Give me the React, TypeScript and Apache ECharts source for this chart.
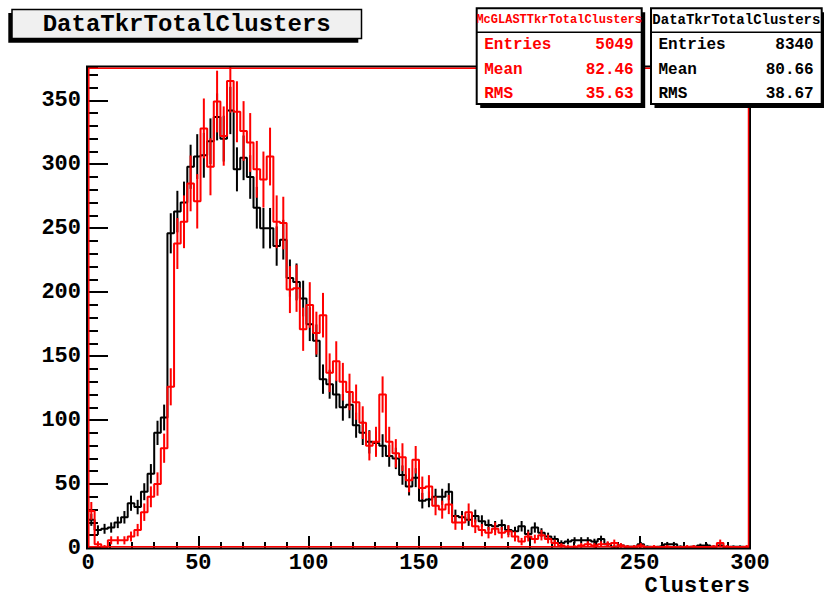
import { useEffect, useRef } from 'react';
import * as echarts from 'echarts';

// Histogram binning: 100 bins over [0, 300)
const X_MIN = 0;
const X_MAX = 300;
const BIN_WIDTH = 3;
const Y_MAX = 376;
const MAJOR_STEP = 50;
const MINOR_STEP = 10;

// Data (black): bin contents
const dataCounts = [
  22, 14, 15, 16, 20, 24, 35, 32, 44, 58,
  90, 102, 246, 263, 270, 298, 306, 307, 318, 337,
  320, 342, 296, 305, 290, 266, 250, 250, 236, 241,
  211, 208, 195, 175, 162, 132, 128, 120, 110, 112,
  96, 90, 83, 82, 80, 72, 70, 57, 48, 55,
  37, 38, 40, 40, 44, 25, 24, 22, 25, 21,
  18, 17, 18, 14, 13, 17, 11, 16, 12, 9,
  7, 4, 5, 6, 6, 6, 5, 7, 3, 1,
  2, 1, 1, 3, 1, 0, 1, 3, 3, 1,
  0, 1, 2, 2, 1, 2, 0, 1, 1, 0,
];

// MC (red): bin contents, normalised to the data integral
const mcCounts = [
  29, 3, 1, 6, 6, 6, 9, 14, 28, 40,
  50, 78, 126, 238, 255, 285, 271, 328, 298, 349,
  322, 365, 341, 326, 317, 296, 288, 306, 255, 254,
  202, 203, 171, 190, 168, 182, 137, 146, 130, 122,
  114, 98, 80, 83, 120, 83, 74, 71, 53, 69,
  47, 48, 33, 30, 34, 20, 20, 28, 17, 14,
  12, 15, 12, 13, 9, 5, 9, 7, 10, 7,
  4, 2, 1, 1, 2, 3, 2, 3, 3, 4,
  2, 1, 1, 2, 0, 1, 0, 1, 0, 0,
  1, 1, 0, 0, 1, 4, 1, 0, 0, 1,
];

const MC_ENTRIES = 5049;

const titleText = 'DataTkrTotalClusters';
const xAxisTitle = 'Clusters';
const statLabels = ['Entries', 'Mean', 'RMS'];
const mcStatsTitle = 'McGLASTTkrTotalClusters';
const mcStatValues = ['5049', '82.46', '35.63'];
const dataStatsTitle = 'DataTkrTotalClusters';
const dataStatValues = ['8340', '80.66', '38.67'];

const BLACK = '#000000';
const RED = '#ff0000';
const FONT = "'Courier New', 'Liberation Mono', monospace";

// Outline of a histogram: one point per left bin edge, stepped at the next edge
function stepPoints(counts: number[]): number[][] {
  const pts: number[][] = [[X_MIN, 0]];
  counts.forEach((c, k) => pts.push([X_MIN + k * BIN_WIDTH, c]));
  const end = X_MIN + counts.length * BIN_WIDTH;
  pts.push([end, counts[counts.length - 1]]);
  pts.push([end, 0]);
  return pts;
}

// Vertical error bars at bin centres: [centre, low, high]
function errorBars(counts: number[], weight: number): number[][] {
  const out: number[][] = [];
  counts.forEach((c, k) => {
    if (c <= 0) return;
    const e = Math.sqrt(c * weight);
    out.push([X_MIN + (k + 0.5) * BIN_WIDTH, c - e, c + e]);
  });
  return out;
}

function errorSeries(data: number[][], color: string, z: number) {
  return {
    type: 'custom',
    data,
    z,
    clip: true,
    encode: { x: 0, y: [1, 2] },
    renderItem: (_params: any, api: any) => {
      const x = api.value(0);
      const p1 = api.coord([x, api.value(1)]);
      const p2 = api.coord([x, api.value(2)]);
      return {
        type: 'line',
        shape: { x1: p1[0], y1: p1[1], x2: p2[0], y2: p2[1] },
        style: { stroke: color, lineWidth: 2 },
      };
    },
  };
}

function textEl(text: string, x: number, y: number, size: number, color: string, align: string, z: number) {
  return {
    type: 'text',
    x,
    y,
    z,
    silent: true,
    style: {
      text,
      fill: color,
      fontFamily: FONT,
      fontSize: size,
      fontWeight: 'bold',
      align,
      verticalAlign: 'middle',
      textAlign: align,
      textVerticalAlign: 'middle',
    },
  };
}

function statsBox(
  left: number,
  width: number,
  title: string,
  titleSize: number,
  values: string[],
  color: string,
  z: number,
) {
  const top = 8.3;
  const height = 95.7;
  const els: any[] = [
    { type: 'rect', z, silent: true, shape: { x: left + 3.5, y: top + 4, width, height }, style: { fill: BLACK } },
    {
      type: 'rect', z: z + 1, silent: true,
      shape: { x: left, y: top, width, height },
      style: { fill: '#ffffff', stroke: BLACK, lineWidth: 2 },
    },
    {
      type: 'line', z: z + 2, silent: true,
      shape: { x1: left, y1: top + 24, x2: left + width, y2: top + 24 },
      style: { stroke: BLACK, lineWidth: 1.5 },
    },
    textEl(title, left + width / 2, top + 11.6, titleSize, color, 'center', z + 3),
  ];
  statLabels.forEach((lab, i) => {
    const y = 45.2 + i * 24.5;
    els.push(textEl(lab, left + 7.5, y, 16, color, 'left', z + 3));
    els.push(textEl(values[i], left + width - 8, y, 16, color, 'right', z + 3));
  });
  return els;
}

export default function App() {
  const ref = useRef<HTMLDivElement>(null);

  useEffect(() => {
    document.body.style.margin = '0';
    if (!ref.current) return;
    const chart = echarts.init(ref.current, undefined, { renderer: 'svg' });

    const mcSum = mcCounts.reduce((a, b) => a + b, 0);
    const mcWeight = mcSum / MC_ENTRIES;

    const axisLabel = { color: BLACK, fontFamily: FONT, fontSize: 22, fontWeight: 'bold' };
    const tickLine = { color: BLACK, width: 2 };

    const graphic: any[] = [
      // frame
      {
        type: 'rect', z: 50, silent: true,
        shape: { x: 87, y: 66.5, width: 663, height: 482 },
        style: { fill: 'none', stroke: BLACK, lineWidth: 2 },
      },
      {
        type: 'rect', z: 51, silent: true,
        shape: { x: 88.8, y: 68.2, width: 659.7, height: 478.6 },
        style: { fill: 'none', stroke: RED, lineWidth: 1.5 },
      },
      // title pave
      { type: 'rect', z: 60, silent: true, shape: { x: 8.3, y: 13, width: 350, height: 29.7 }, style: { fill: BLACK } },
      {
        type: 'rect', z: 61, silent: true,
        shape: { x: 12, y: 9.5, width: 349.5, height: 29 },
        style: { fill: '#f0f0f0', stroke: BLACK, lineWidth: 1.5 },
      },
      textEl(titleText, 186.7, 24.5, 24, BLACK, 'center', 62),
      // axis title
      textEl(xAxisTitle, 750, 586.5, 22, BLACK, 'right', 62),
      // data stats box
      ...statsBox(651, 170.7, dataStatsTitle, 14, dataStatValues, BLACK, 70),
      // MC stats box
      ...statsBox(476.7, 165, mcStatsTitle, 12, mcStatValues, RED, 80),
    ];

    chart.setOption({
      animation: false,
      backgroundColor: '#ffffff',
      grid: { left: 88, right: 74, top: 67, bottom: 50, containLabel: false },
      xAxis: {
        type: 'value',
        min: X_MIN,
        max: X_MAX,
        interval: MAJOR_STEP,
        axisLine: { show: false },
        axisTick: { show: true, inside: true, length: 12, lineStyle: tickLine },
        minorTick: { show: true, splitNumber: MAJOR_STEP / MINOR_STEP, length: 6, lineStyle: tickLine },
        splitLine: { show: false },
        minorSplitLine: { show: false },
        axisLabel: { ...axisLabel, margin: 4 },
      },
      yAxis: [
        {
          type: 'value',
          position: 'left',
          min: 0,
          max: Y_MAX,
          interval: MAJOR_STEP,
          axisLine: { show: false },
          axisTick: { show: true, inside: true, length: 20, lineStyle: tickLine },
          splitLine: { show: false },
          axisLabel: { ...axisLabel, margin: 7, showMaxLabel: false },
        },
        {
          type: 'value',
          position: 'left',
          min: 0,
          max: Y_MAX,
          interval: MINOR_STEP,
          axisLine: { show: false },
          axisTick: { show: true, inside: true, length: 10, lineStyle: tickLine },
          splitLine: { show: false },
          axisLabel: { show: false },
        },
      ],
      series: [
        {
          type: 'line',
          step: 'end',
          data: stepPoints(dataCounts),
          symbol: 'none',
          showSymbol: false,
          clip: true,
          z: 2,
          lineStyle: { color: BLACK, width: 2 },
        },
        errorSeries(errorBars(dataCounts, 1), BLACK, 3),
        {
          type: 'line',
          step: 'end',
          data: stepPoints(mcCounts),
          symbol: 'none',
          showSymbol: false,
          clip: true,
          z: 4,
          lineStyle: { color: RED, width: 2 },
        },
        errorSeries(errorBars(mcCounts, mcWeight), RED, 5),
      ],
      graphic,
    });

    return () => chart.dispose();
  }, []);

  return (
    <div
      ref={ref}
      style={{ position: 'fixed', left: 0, top: 0, width: 824, height: 598, background: '#ffffff' }}
    />
  );
}
